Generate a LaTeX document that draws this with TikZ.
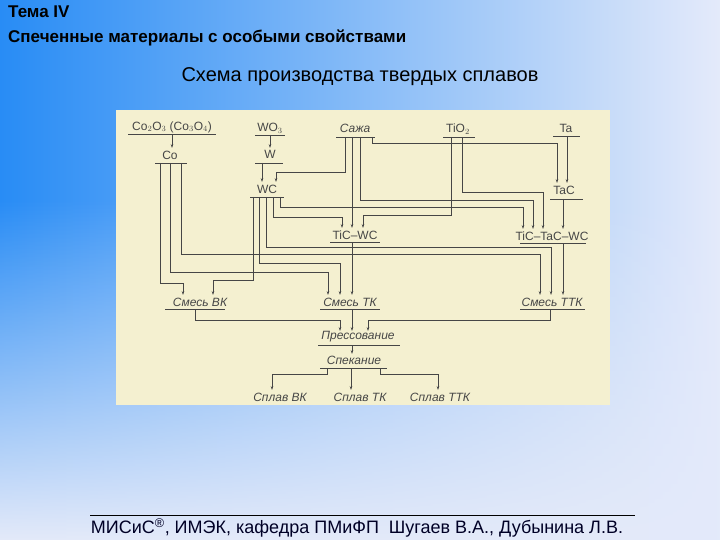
\documentclass[tikz,border=0pt]{standalone}
\usepackage{fontspec}
\setmainfont{Liberation Sans}
\usetikzlibrary{arrows.meta,fadings}
\definecolor{bgL}{RGB}{40,140,245}
\definecolor{bgR}{RGB}{228,234,250}
\definecolor{paper}{RGB}{244,240,208}
\definecolor{ink}{RGB}{70,70,70}
\begin{document}
\begin{tikzpicture}[x=1pt,y=-1pt,
  lab/.style={text=ink,font=\fontsize{12}{12}\selectfont\itshape,inner sep=0pt},
  chem/.style={text=ink,font=\fontsize{12}{12}\selectfont,inner sep=0pt},
  ln/.style={draw=ink,line width=0.6pt},
  ar/.style={ln,-{Stealth[length=4pt,width=2.6pt]}}]
\useasboundingbox (0,0) rectangle (720,540);
\shade[left color=bgL,right color=bgR] (0,0) rectangle (720,540);
\fill[bgR,path fading=north] (0,200) rectangle (720,540);
\fill[paper] (116,110) rectangle (610,405);
% titles
\node[anchor=west,font=\fontsize{17}{17}\selectfont\bfseries,inner sep=0pt] (t1) at (8,12) {Тема IV};
\node[anchor=west,font=\fontsize{17}{17}\selectfont\bfseries,inner sep=0pt] (t2) at (8,38) {Спеченные материалы с особыми свойствами};
\node[font=\fontsize{20}{20}\selectfont,inner sep=0pt] (t3) at (360,77) {Схема производства твердых сплавов};
\draw[black,line width=0.5pt] (90,515) -- (635,515);
\node[font=\fontsize{18}{18}\selectfont,inner sep=0pt,text=black!85!blue] (ft) at (357,528) {МИСиС\textsuperscript{®}, ИМЭК, кафедра ПМиФП\ \ Шугаев В.А., Дубынина Л.В.};
% nodes
\node[chem] (cao) at (172,127) {Co$_2$O$_3$ (Co$_3$O$_4$)};
\node[chem] (co) at (170,155) {Co};
\node[chem] (wo) at (270,128) {WO$_3$};
\node[chem] (w) at (270,154) {W};
\node[chem] (wc) at (267,189) {WC};
\node[lab] (saj) at (355,128) {Сажа};
\node[chem] (tio) at (458,129) {TiO$_2$};
\node[chem] (ta) at (566,128) {Ta};
\node[chem] (tac) at (564,190) {TaC};
\node[chem] (tcw) at (355,235) {TiC--WC};
\node[chem] (ttw) at (552,236) {TiC--TaC--WC};
\node[lab] (svk) at (200,302) {Смесь ВК};
\node[lab] (stk) at (350,302) {Смесь ТК};
\node[lab] (sttk) at (552,302) {Смесь ТТК};
\node[lab] (pr) at (358,337) {Прессование};
\node[lab] (sp) at (354,360) {Спекание};
\node[lab] (avk) at (280,397) {Сплав ВК};
\node[lab] (atk) at (360,397) {Сплав ТК};
\node[lab] (attk) at (440,397) {Сплав ТТК};
% underlines
\foreach \y/\a/\b in {134/128/216, 163/155/187, 135/255/285, 163/255/283, 197/250/284, 137/336/375, 137/443/475, 136/553/580, 199/550/583, 242/330/380, 243/520/586, 309/165/225, 309/320/380, 309/520/585, 345/318/400, 368/320/387}
  \draw[ln] (\a,\y) -- (\b,\y);
% arrows top
\draw[ar] (172,134) -- (172,148);
\draw[ar] (270,135) -- (270,148);
\draw[ar] (262,163) -- (262,182);
\draw[ar] (345,137) |- (276,172) -- (276,182);
\draw[ar] (352,137) -- (352,228);
\draw[ar] (360,137) |- (533,200) -- (533,229);
\draw[ar] (372,137) |- (557,143) -- (557,183);
\draw[ar] (567,136) -- (567,183);
\draw[ar] (451,137) |- (363,215) -- (363,228);
\draw[ar] (462,137) |- (543,192) -- (543,229);
\draw[ar] (563,199) -- (563,229);
% Co and WC lines
\draw[ar] (160,163) |- (183,283) -- (183,295);
\draw[ar] (253,197) |- (213,280) -- (213,295);
\draw[ar] (170,163) |- (328,272) -- (328,295);
\draw[ar] (259,197) |- (340,263) -- (340,295);
\draw[ar] (181,163) |- (540,254) -- (540,295);
\draw[ar] (266,197) |- (551,247) -- (551,295);
\draw[ar] (273,197) |- (342,217) -- (342,228);
\draw[ar] (280,197) |- (523,207) -- (523,229);
\draw[ar] (352,242) -- (352,295);
\draw[ar] (563,243) -- (563,295);
% bottom
\draw[ar] (195,309) |- (340,320) -- (340,331);
\draw[ar] (352,309) -- (352,331);
\draw[ar] (550,309) |- (368,320) -- (368,331);
\draw[ar] (352,345) -- (352,354);
\draw[ar] (327,368) |- (272,374) -- (272,390);
\draw[ar] (351,368) -- (351,390);
\draw[ar] (380,368) |- (438,374) -- (438,390);
\end{tikzpicture}
\end{document}
